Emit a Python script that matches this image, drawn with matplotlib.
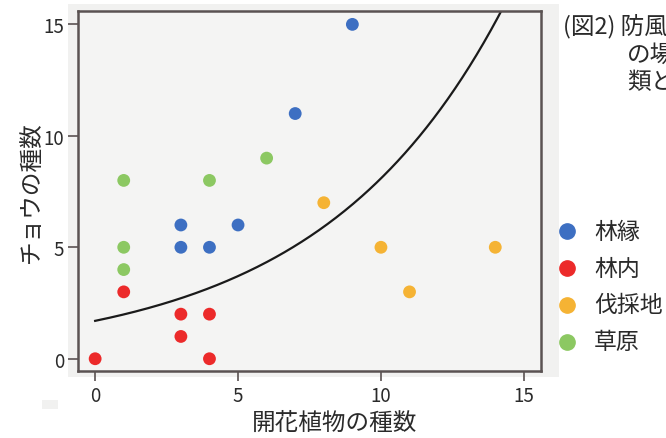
import numpy as np
import matplotlib
matplotlib.use("Agg")
import matplotlib.pyplot as plt
from matplotlib.patches import Rectangle

plt.rcParams['font.family'] = ['Noto Sans CJK JP', 'DejaVu Sans']

# データ（開花植物の種数, チョウの種数）
rinen_x = [3, 3, 4, 5, 7, 9]
rinen_y = [6, 5, 5, 6, 11, 15]
rinnai_x = [0, 1, 3, 3, 4, 4]
rinnai_y = [0, 3, 2, 1, 2, 0]
bassai_x = [8, 10, 11, 14]
bassai_y = [7, 5, 3, 5]
sougen_x = [1, 1, 1, 4, 6]
sougen_y = [8, 5, 4, 8, 9]

groups = ['林縁', '林内', '伐採地', '草原']
colors = ['#3d6fc2', '#ec2a2a', '#f5b334', '#8cc862']

# 近似曲線 y = a * exp(b * x)
fit_a = 1.7
fit_b = 0.156

xticks = [0, 5, 10, 15]
yticks = [0, 5, 10, 15]

fig = plt.figure(figsize=(6.66, 4.39), dpi=100)
W, H = 666, 439

# 背景の灰色パネル
fig.patches.append(Rectangle((68 / W, 1 - 378 / H), (559 - 68) / W, (378 - 5) / H,
                             transform=fig.transFigure, facecolor='#f1f1f0',
                             edgecolor='none', zorder=-10))
fig.patches.append(Rectangle((42 / W, 1 - 410 / H), 16 / W, 9 / H,
                             transform=fig.transFigure, facecolor='#f1f1f0',
                             edgecolor='none', zorder=-10))

ax = fig.add_axes([78 / W, 1 - 372 / H, (541 - 78) / W, (372 - 12) / H])
ax.set_facecolor('#f4f4f3')

series = [(rinen_x, rinen_y), (rinnai_x, rinnai_y), (bassai_x, bassai_y), (sougen_x, sougen_y)]
for (xs, ys), c in zip(series, colors):
    ax.scatter(xs, ys, s=85, color=c, edgecolors='none', zorder=3)

xc = np.linspace(0, 15, 300)
ax.plot(xc, fit_a * np.exp(fit_b * xc), color='#1a1a1a', linewidth=1.6, zorder=2)

ax.set_xlim(-0.6, 15.6)
ax.set_ylim(-0.55, 15.6)
ax.set_xticks(xticks)
ax.set_yticks(yticks)
ax.tick_params(length=7, width=1.2, color='#5a5252', labelsize=13.5,
               labelcolor='#2a2a2a', pad=3)
for s in ax.spines.values():
    s.set_color('#5a5252')
    s.set_linewidth(1.8)

ax.set_xlabel('開花植物の種数', fontsize=17, color='#2a2a2a')
ax.xaxis.set_label_coords((335 - 78) / 463, -0.112)
ax.set_ylabel('チョウの種数', fontsize=17, color='#2a2a2a')
ax.yaxis.set_label_coords((43 - 78) / 463, 0.5)

# 凡例
ly = [232, 269, 306, 343]
for g, c, y in zip(groups, colors, ly):
    fig.add_artist(plt.Line2D([567 / W], [1 - y / H], marker='o', markersize=11,
                              color=c, linestyle='none', transform=fig.transFigure))
    fig.text(594 / W, 1 - y / H, g, fontsize=16.5, color='#2a2a2a',
             va='center', ha='left')

# 図のキャプション（右端で切れている）
fig.text(563 / W, 1 - 26 / H, '(図2) 防風林', fontsize=17, color='#2a2a2a',
         va='center', ha='left')
fig.text(627 / W, 1 - 55 / H, 'の場所', fontsize=17, color='#2a2a2a',
         va='center', ha='left')
fig.text(627 / W, 1 - 83 / H, '類との', fontsize=17, color='#2a2a2a',
         va='center', ha='left')

fig.savefig('out.png', dpi=100)
